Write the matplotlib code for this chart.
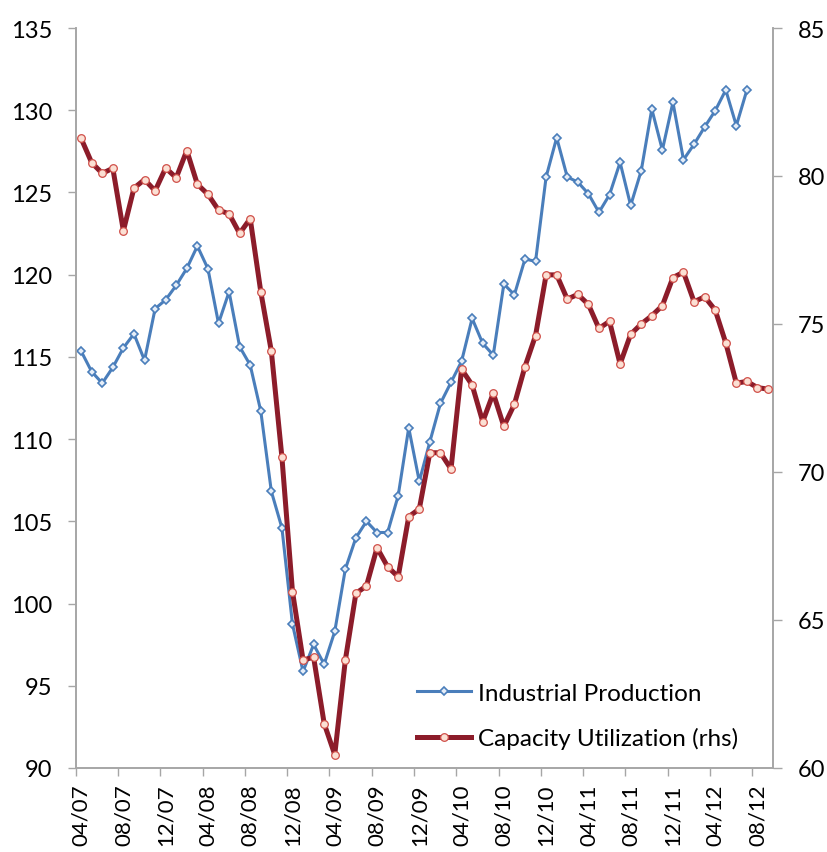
import numpy as np
import matplotlib
matplotlib.use("Agg")
import matplotlib.pyplot as plt

# monthly, 04/07 .. 09/12
tick_labels = ["04/07", "08/07", "12/07", "04/08", "08/08", "12/08", "04/09",
               "08/09", "12/09", "04/10", "08/10", "12/10", "04/11", "08/11",
               "12/11", "04/12", "08/12"]

industrial_production = [
    115.35, 114.1, 113.4, 114.36, 115.55, 116.4, 114.79, 117.93, 118.47, 119.35,
    120.38, 121.74, 120.36, 117.04, 118.96, 115.62, 114.5, 111.7, 106.82, 104.6,
    98.75, 95.87, 97.51, 96.31, 98.3, 102.09, 104.0, 105.0, 104.32, 104.32,
    106.55, 110.69, 107.43, 109.84, 112.17, 113.45, 114.73, 117.34, 115.82, 115.11,
    119.43, 118.78, 120.95, 120.81, 125.94, 128.33, 125.94, 125.63, 124.92, 123.79,
    124.86, 126.83, 124.21, 126.32, 130.07, 127.58, 130.48, 126.99, 127.93, 128.98,
    129.97, 131.23, 129.06, 131.23]

capacity_utilization = [
    81.27, 80.45, 80.09, 80.26, 78.15, 79.59, 79.88, 79.5, 80.27, 79.94,
    80.86, 79.72, 79.38, 78.85, 78.72, 78.06, 78.56, 76.09, 74.08, 70.5,
    65.96, 63.65, 63.74, 61.5, 60.45, 63.64, 65.9, 66.15, 67.44, 66.8,
    66.46, 68.49, 68.75, 70.65, 70.65, 70.1, 73.47, 72.94, 71.7, 72.66,
    71.54, 72.29, 73.56, 74.61, 76.66, 76.66, 75.84, 76.0, 75.66, 74.85,
    75.09, 73.65, 74.65, 75.0, 75.28, 75.62, 76.57, 76.75, 75.75, 75.92,
    75.47, 74.36, 73.0, 73.06, 72.85, 72.8]

BLUE = "#4A7EBB"
RED = "#8C1C2A"
GRID = "#A6A6A6"

plt.rcParams["font.family"] = ["Lato", "DejaVu Sans"]

fig = plt.figure(figsize=(8.27, 8.53), dpi=100)
ax = fig.add_axes([0.0917, 0.0985, 0.8434, 0.8675])
ax2 = ax.twinx()

n = len(capacity_utilization)
x_ip = np.arange(len(industrial_production)) + 0.5
x_cu = np.arange(n) + 0.5

l1, = ax.plot(x_ip, industrial_production, color=BLUE, lw=2.2, marker="D",
              ms=4, mfc="#E6EEF8", mec=BLUE, mew=1.2, zorder=3)
l2, = ax2.plot(x_cu, capacity_utilization, color=RED, lw=3.6, marker="o",
               ms=5.5, mfc="#FBE0D4", mec="#D0504A", mew=0.9, zorder=3)

ax.set_xlim(0, n)
ax.set_ylim(90, 135)
ax.set_yticks(np.arange(90, 136, 5))
ax2.set_ylim(60, 85)
ax2.set_yticks(np.arange(60, 86, 5))

# ticks between categories, labels under the first month of each group
ax.set_xticks(np.arange(0, n, 4))
ax.set_xticklabels([])
ax.set_xticks(np.arange(0, n, 4) + 0.5, minor=True)
ax.set_xticklabels(tick_labels, minor=True, rotation=90, fontsize=16)
ax.tick_params(axis="x", which="major", length=5.5, color=GRID, width=1)
ax.tick_params(axis="x", which="minor", length=0, pad=11)

ax.tick_params(axis="y", length=6, color=GRID, width=1, labelsize=17, pad=11)
ax2.tick_params(axis="y", length=6.5, color=GRID, width=1, labelsize=17, pad=11)

for a in (ax, ax2):
    a.spines["top"].set_visible(False)
    for s in ("left", "right", "bottom"):
        a.spines[s].set_color(GRID)
        a.spines[s].set_linewidth(1.2)

leg = ax2.legend([l1, l2], ["Industrial Production", "Capacity Utilization (rhs)"],
                 loc="center left", bbox_to_anchor=(0.4896, 0.0703), frameon=False,
                 fontsize=17.5, handlelength=2.2, labelspacing=0.95,
                 handletextpad=0.3, borderpad=0, borderaxespad=0)

fig.savefig("out.png", dpi=100)
